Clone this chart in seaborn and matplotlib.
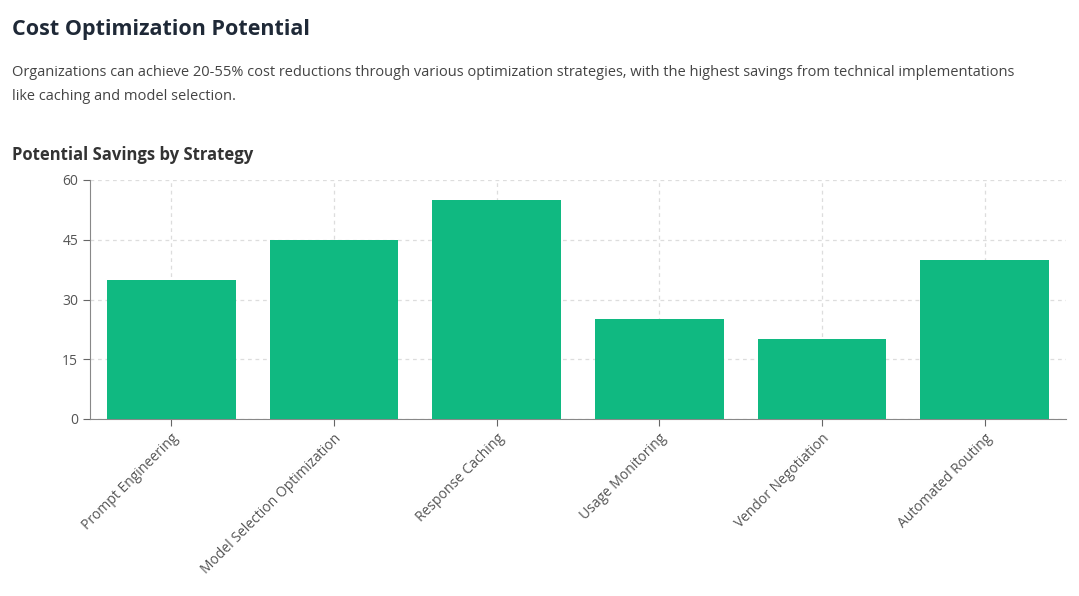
import matplotlib
matplotlib.use("Agg")
import matplotlib.pyplot as plt
import seaborn as sns
import pandas as pd

categories = ["Prompt Engineering", "Model Selection Optimization", "Response Caching",
              "Usage Monitoring", "Vendor Negotiation", "Automated Routing"]
savings = [35, 45, 55, 25, 20, 40]
yticks = [0, 15, 30, 45, 60]

df = pd.DataFrame({"Strategy": categories, "Savings": savings})
plt.rcParams["font.family"] = "Open Sans"

fig = plt.figure(figsize=(10.79, 5.96), dpi=100)
ax = fig.add_axes([90/1079, 1-419/596, (1066-90)/1079, (419-180)/596])
sns.barplot(data=df, x="Strategy", y="Savings", color="#10b981", saturation=1, width=0.79, ax=ax, zorder=3)
ax.set_ylim(0, 60)
ax.set_yticks(yticks)
ax.set_xlim(-0.5, 5.5)
ax.grid(True, linestyle=(0, (3, 3)), color="#dddddd", linewidth=0.9, zorder=0)
ax.set_axisbelow(True)
for s in ["top", "right"]:
    ax.spines[s].set_visible(False)
for s in ["left", "bottom"]:
    ax.spines[s].set_color("#888888")
ax.set_xlabel("")
ax.set_ylabel("")
ax.tick_params(colors="#666666", labelsize=10, length=5)
plt.setp(ax.get_xticklabels(), rotation=45, ha="right", rotation_mode="anchor", color="#555555")
plt.setp(ax.get_yticklabels(), color="#555555")

fig.text(12/1079, 1-30/596, "Cost Optimization Potential", fontsize=15.5, fontweight="bold", color="#1f2937", va="center")
fig.text(12/1079, 1-72/596, "Organizations can achieve 20-55% cost reductions through various optimization strategies, with the highest savings from technical implementations",
         fontsize=10.5, color="#444444", va="center")
fig.text(12/1079, 1-96/596, "like caching and model selection.", fontsize=10.5, color="#444444", va="center")
fig.text(12/1079, 1-155/596, "Potential Savings by Strategy", fontsize=12, fontweight="bold", color="#333333", va="center")

fig.savefig("out.png", dpi=100, facecolor="white")
